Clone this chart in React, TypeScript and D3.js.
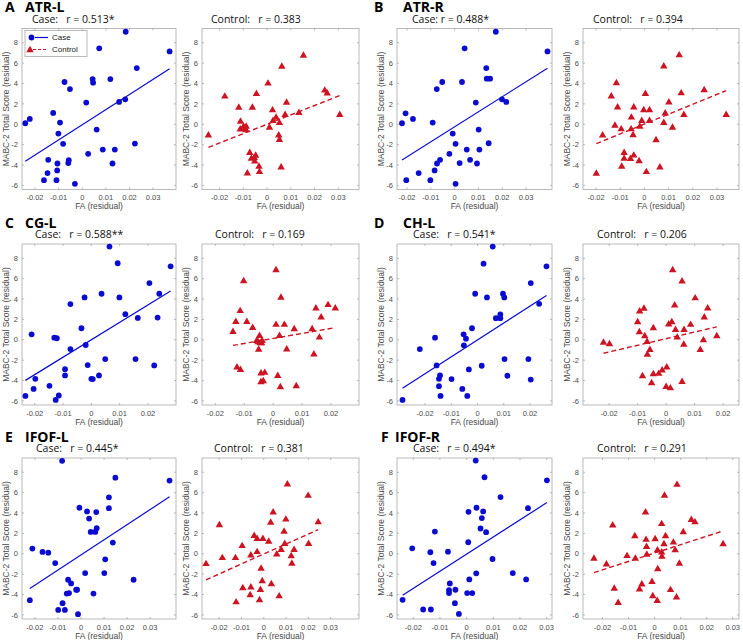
import React from "react";
import * as d3 from "d3";

type Pt = [number, number];

// panel headings and correlation labels
const letters = ["A", "B", "C", "D", "E", "F"];
const tracts = ["ATR-L", "ATR-R", "CG-L", "CH-L", "IFOF-L", "IFOF-R"];
const caseTitles = [
  "Case:   r = 0.513*",
  "Case: r = 0.488*",
  "Case:   r = 0.588**",
  "Case:   r = 0.541*",
  "Case:   r = 0.445*",
  "Case:   r = 0.494*",
];
const controlTitles = [
  "Control:   r = 0.383",
  "Control:   r = 0.394",
  "Control:   r = 0.169",
  "Control:   r = 0.206",
  "Control:   r = 0.381",
  "Control:   r = 0.291",
];

const xTicks = [-0.02, -0.01, 0, 0.01, 0.02, 0.03];
const yTicks = [-6, -4, -2, 0, 2, 4, 6, 8];

// [FA residual, MABC-2 residual]
const atrLCase: Pt[] = [
  [-0.0241, 0.1], [-0.0222, 0.53], [-0.0123, 1.11], [-0.0094, 0.17], [-0.0101, -0.91],
  [-0.0081, -1.92], [-0.0075, 4.15], [-0.0052, 3.46], [-0.0144, -3.49], [-0.0105, -3.85],
  [-0.0057, -3.52], [-0.0059, -3.81], [-0.0147, -4.79], [-0.0106, -4.53], [-0.0162, -5.48],
  [-0.0109, -5.48], [-0.0031, -5.84], [0.0017, 2.13], [0.0025, -2.9], [0.0044, 4.44],
  [0.0046, 4.08], [0.0072, 7.45], [0.0061, -0.52], [0.0087, -2.48], [0.0119, 4.44],
  [0.0138, -2.48], [0.0128, -3.85], [0.0156, 2.19], [0.0182, 2.45], [0.0184, 9.08],
  [0.0231, 5.52], [0.0223, -1.89], [0.037, 7.15],
];
const atrLControl: Pt[] = [
  [-0.0247, -1.09], [-0.0178, 2.73], [-0.0119, 1.64], [-0.0112, 0.26], [-0.0113, -0.5],
  [-0.0099, -0.23], [-0.0093, -0.43], [-0.0089, -0.56], [-0.0088, -0.23], [-0.0062, 1.64],
  [-0.0045, 2.99], [-0.0073, -2.8], [-0.0066, -3.36], [-0.0054, -3.3], [-0.0048, -3.07],
  [-0.0052, -3.63], [-0.0034, -4.15], [-0.0032, -4.68], [-0.0083, -4.81], [0.0004, 4.01],
  [0.001, -0.33], [0.0023, 1.38], [0.0025, 0.33], [0.0038, 0.65], [0.0049, -1.09],
  [0.0052, -1.52], [0.0052, 0.13], [0.0062, 5.66], [0.0059, -4.22], [0.0076, 0.92],
  [0.0082, 2.14], [0.0134, 1.12], [0.0153, 6.75], [0.0243, 3.32], [0.0253, 3.03],
  [0.0306, 0.92],
];
const atrRCase: Pt[] = [
  [-0.0221, 0.1], [-0.0206, 1.08], [-0.0175, 0.53], [-0.0203, -5.48], [-0.0151, -4.79],
  [-0.0092, 0.17], [-0.0075, 3.46], [-0.0052, 4.15], [-0.0084, -4.53], [-0.0074, -3.85],
  [-0.0061, -3.49], [-0.0102, -5.48], [-0.0022, -2.9], [-0.0008, -0.91], [0.0004, -1.92],
  [0.0004, -5.84], [0.0021, -3.81], [0.0031, 4.15], [0.0042, 7.45], [0.0051, -2.48],
  [0.0065, -3.49], [0.0089, 2.13], [0.0094, -3.85], [0.0101, -0.52], [0.0104, -2.48],
  [0.0133, 5.52], [0.0135, 4.48], [0.0149, 4.48], [0.0143, -1.86], [0.0173, 9.08],
  [0.0199, 2.45], [0.0217, 2.19], [0.039, 7.15],
];
const atrRControl: Pt[] = [
  [-0.0199, -4.84], [-0.0173, -1.08], [-0.0137, 2.75], [-0.0116, 4.04], [-0.0111, 1.66],
  [-0.0122, -0.12], [-0.0096, -0.48], [-0.0094, -4.15], [-0.0084, -2.8], [-0.0084, -3.36],
  [-0.0054, 0.67], [-0.0055, -0.48], [-0.0044, 1.66], [-0.0047, -1.05], [-0.0044, -3.06],
  [-0.0058, -3.39], [-0.0022, -3.62], [-0.0019, -0.22], [-0.0011, 0.34], [-0.0003, 1.4],
  [0.0004, 2.98], [0.0008, -4.68], [0.0021, 1.4], [0.0021, 0.34], [0.0048, -1.54],
  [0.0064, -4.22], [0.008, 5.69], [0.008, 0.14], [0.0086, 1.07], [0.0101, 2.16],
  [0.0116, -0.32], [0.0144, 6.78], [0.0152, 3.05], [0.0163, 0.93], [0.0247, 3.35],
  [0.0338, 0.93],
];
const cgLCase: Pt[] = [
  [-0.0233, -5.51], [-0.0211, 0.54], [-0.0204, -4.82], [-0.0198, -3.83], [-0.0148, -4.52],
  [-0.0131, 0.21], [-0.0122, 0.15], [-0.0126, -5.9], [-0.0115, -5.47], [-0.0093, -2.88],
  [-0.0093, -3.5], [-0.0074, -0.91], [-0.0074, 3.5], [-0.0035, 1.13], [-0.0024, 4.16],
  [-0.002, -0.51], [-0.0013, -2.48], [0.0, -3.83], [0.0005, -3.86], [0.0027, -3.5],
  [0.0036, 4.52], [0.0049, -1.89], [0.0064, 9.15], [0.0093, 7.51], [0.0099, 4.16],
  [0.012, 2.51], [0.0156, -1.89], [0.0164, 2.15], [0.0205, 5.57], [0.0222, -2.52],
  [0.0234, 2.18], [0.024, 4.52], [0.028, 7.21],
];
const cgLControl: Pt[] = [
  [-0.0139, 0.79], [-0.0129, 1.77], [-0.0125, -2.7], [-0.0114, 2.83], [-0.0113, -2.94],
  [-0.0102, 5.76], [-0.0091, 1.77], [-0.0071, 1.18], [-0.0057, -0.1], [-0.0052, -0.23],
  [-0.0047, 0.39], [-0.0045, -0.33], [-0.004, -0.33], [-0.0038, -0.1], [-0.005, -0.96],
  [-0.0042, -3.3], [-0.0029, -3.23], [-0.0042, -4.15], [-0.0034, -4.06], [0.001, 6.85],
  [0.001, 1.48], [0.0016, -3.53], [0.0022, 0.39], [0.0027, 4.15], [0.0025, -4.65],
  [0.0039, 1.48], [0.0047, -0.93], [0.0073, 1.05], [0.008, -4.55], [0.0135, 1.05],
  [0.0141, -1.42], [0.0148, 3.09], [0.016, 0.23], [0.0166, 2.2], [0.019, 3.42],
  [0.0215, 3.09],
];
const chLCase: Pt[] = [
  [-0.0286, -5.9], [-0.022, -0.91], [-0.0162, 0.21], [-0.0156, -2.52], [-0.0143, -3.5],
  [-0.0147, -3.83], [-0.0147, -4.55], [-0.0141, -5.51], [-0.0099, -3.86], [-0.0058, -4.82],
  [-0.0053, 0.54], [-0.0052, -0.54], [-0.0044, 0.11], [-0.0039, -5.51], [-0.0033, -2.91],
  [-0.0021, 1.13], [-0.0009, 4.52], [0.0016, -2.55], [0.0023, 7.47], [0.0036, 4.16],
  [0.0058, 9.15], [0.007, 2.12], [0.0087, 2.48], [0.0087, 2.12], [0.0097, 4.52],
  [0.0102, 4.16], [0.0103, -1.89], [0.0114, -3.53], [0.0194, -1.89], [0.0203, 5.57],
  [0.0203, -3.9], [0.0235, 3.53], [0.0263, 7.21],
];
const chLControl: Pt[] = [
  [-0.022, -0.27], [-0.0199, -0.43], [-0.01, 1.74], [-0.0093, 2.8], [-0.0094, 0.75],
  [-0.0078, 3.06], [-0.0075, 0.36], [-0.0067, -0.2], [-0.0057, -0.99], [-0.0066, -1.45],
  [-0.0045, 1.15], [-0.0083, -3.56], [-0.0051, -4.25], [-0.0045, -3.36], [-0.0026, -3.33],
  [-0.0014, -3.0], [0.0002, -2.7], [0.0, -4.62], [0.0015, -4.75], [0.0009, 1.51],
  [0.002, 1.74], [0.0023, 6.85], [0.003, 3.39], [0.0033, 0.98], [0.0039, 0.23],
  [0.0056, 5.73], [0.0056, -4.12], [0.0063, 0.98], [0.0062, -0.47], [0.0086, 1.48],
  [0.0102, 4.08], [0.012, -0.99], [0.0131, -0.04], [0.0134, 2.2], [0.0146, 3.09],
  [0.0178, 0.36],
];
const ifofLCase: Pt[] = [
  [-0.0222, -4.55], [-0.0211, 0.51], [-0.0167, 0.18], [-0.0142, 0.11], [-0.0112, -0.91],
  [-0.0099, -5.51], [-0.0082, 9.12], [-0.008, -4.85], [-0.007, -5.51], [-0.0062, -3.9],
  [-0.0056, -2.55], [-0.0052, -3.86], [-0.0043, -2.91], [-0.0021, -3.53], [-0.0017, -3.53],
  [-0.0013, -5.93], [-0.0007, 4.52], [0.0018, -1.89], [0.0026, 4.16], [0.0035, 3.46],
  [0.0042, 2.15], [0.0054, -3.9], [0.0062, 2.15], [0.0066, 4.09], [0.0068, 2.51],
  [0.0101, -1.89], [0.0105, -0.54], [0.0121, 5.54], [0.0121, 4.48], [0.0138, 1.1],
  [0.0149, 7.47], [0.0228, -2.55], [0.0384, 7.18],
];
const ifofLControl: Pt[] = [
  [-0.0259, -1.0], [-0.0199, 2.81], [-0.0186, -0.41], [-0.0127, -0.41], [-0.0124, -4.75],
  [-0.0097, 0.77], [-0.0094, -3.37], [-0.0058, -0.15], [-0.0061, -4.06], [-0.0058, -3.3],
  [-0.0043, 1.76], [-0.003, 1.46], [-0.003, 0.18], [-0.0019, -4.55], [-0.0015, -3.53],
  [-0.0012, -1.46], [-0.0007, -2.68], [-0.0004, 1.46], [0.0022, 1.2], [0.0031, 3.07],
  [0.0034, -2.98], [0.0042, 4.06], [0.0058, -0.05], [0.0069, -4.16], [0.0078, 0.38],
  [0.0091, 2.18], [0.0094, 0.97], [0.0099, 3.37], [0.0106, 6.82], [0.0123, -0.22],
  [0.0126, -0.97], [0.0136, 0.38], [0.0199, 5.7], [0.0201, 0.97], [0.0244, 3.1],
];
const ifofRCase: Pt[] = [
  [-0.024, -4.52], [-0.0204, 0.54], [-0.0163, -5.47], [-0.0136, 0.15], [-0.0134, -5.47],
  [-0.0124, -0.91], [-0.0119, 2.18], [-0.007, 0.21], [-0.0063, -2.91], [-0.0066, -3.57],
  [-0.0066, -3.86], [-0.0042, -3.53], [-0.0044, -4.85], [-0.0029, -5.9], [0.0002, -3.86],
  [0.0006, 1.13], [0.0007, 4.12], [0.001, -2.52], [0.0021, -3.86], [0.0034, 9.15],
  [0.0037, 4.52], [0.0036, -1.92], [0.0052, 2.48], [0.0057, 3.5], [0.0062, 4.16],
  [0.0067, 7.51], [0.0073, 2.12], [0.0097, -0.51], [0.0127, 5.57], [0.0173, -1.89],
  [0.0223, -2.52], [0.023, 4.48], [0.0301, 7.21],
];
const ifofRControl: Pt[] = [
  [-0.0233, -0.47], [-0.0185, -1.04], [-0.0161, 2.8], [-0.0155, -3.42], [-0.014, -4.81],
  [-0.0106, -0.21], [-0.0076, 1.74], [-0.0074, -0.47], [-0.0058, -3.49], [-0.0049, -2.99],
  [-0.0035, 4.06], [-0.0033, 1.38], [-0.0031, 0.68], [-0.003, -0.08], [-0.001, -2.76],
  [-0.0007, -4.15], [0.0002, 1.45], [0.001, -4.61], [0.0012, -1.5], [0.0011, 0.35],
  [0.0027, 2.93], [0.0027, 0.15], [0.0028, -0.28], [0.0036, 0.95], [0.0038, 5.72],
  [0.0042, 1.74], [0.0061, -3.55], [0.0072, 1.11], [0.0079, 0.35], [0.0086, 6.78],
  [0.0084, -4.28], [0.0095, -0.97], [0.011, 2.14], [0.0141, 3.33], [0.0155, 3.1],
  [0.0263, 0.95],
];

const caseData = [atrLCase, atrRCase, cgLCase, chLCase, ifofLCase, ifofRCase];
const controlData = [atrLControl, atrRControl, cgLControl, chLControl, ifofLControl, ifofRControl];

// x-axis limits of each subplot
const caseXDomains: Pt[] = [
  [-0.0255, 0.0397], [-0.0242, 0.0409], [-0.0245, 0.0299],
  [-0.0307, 0.0284], [-0.0256, 0.0412], [-0.0261, 0.032],
];
const controlXDomains: Pt[] = [
  [-0.0274, 0.0387], [-0.0254, 0.0391], [-0.0246, 0.0297],
  [-0.0292, 0.0256], [-0.0277, 0.0427], [-0.0275, 0.0324],
];
const yDomain: Pt = [-6.4, 9.4];

const BLUE = "#0c0cd0";
const RED = "#cc1422";
const AXIS = "#a8a8a8";
const TICKTXT = "#4a4a4a";
const SANS = "'Liberation Sans', Arial, sans-serif";
const HEAD = "'Open Sans', 'Noto Sans', sans-serif";

const fmtX = (t: number) => (t === 0 ? "0" : t.toFixed(2));

function fit(pts: Pt[]) {
  const mx = d3.mean(pts, (d) => d[0]) as number;
  const my = d3.mean(pts, (d) => d[1]) as number;
  const sxy = d3.sum(pts, (d) => (d[0] - mx) * (d[1] - my));
  const sxx = d3.sum(pts, (d) => (d[0] - mx) ** 2);
  const b = sxy / sxx;
  return { b, a: my - b * mx };
}

const tri = d3.symbol(d3.symbolTriangle, 24)() as string;

type PanelProps = {
  data: Pt[];
  isCase: boolean;
  xDomain: Pt;
  left: number;
  right: number;
  top: number;
  height: number;
  title: string;
  titleX: number;
  legend?: boolean;
};

const Panel = ({ data, isCase, xDomain, left, right, top, height, title, titleX, legend }: PanelProps) => {
  const bottom = top + height;
  const x = d3.scaleLinear().domain(xDomain).range([left, right]);
  const y = d3.scaleLinear().domain(yDomain).range([bottom, top]);
  const ticksX = xTicks.filter((t) => t >= xDomain[0] && t <= xDomain[1]);
  const { a, b } = fit(data);
  const [x0, x1] = d3.extent(data, (d) => d[0]) as [number, number];
  const line = d3.line<number>().x((v) => x(v)).y((v) => y(a + b * v));
  const color = isCase ? BLUE : RED;

  return (
    <g>
      <rect x={left} y={top} width={right - left} height={height} fill="white" stroke={AXIS} strokeWidth={0.8} />
      {ticksX.map((t) => (
        <g key={"x" + t}>
          <line x1={x(t)} x2={x(t)} y1={bottom} y2={bottom - 2} stroke={AXIS} strokeWidth={0.8} />
          <line x1={x(t)} x2={x(t)} y1={top} y2={top + 2} stroke={AXIS} strokeWidth={0.8} />
          <text x={x(t)} y={bottom + 10.5} textAnchor="middle" fontSize={7.5} fill={TICKTXT} fontFamily={SANS}>
            {fmtX(t)}
          </text>
        </g>
      ))}
      {yTicks.map((t) => (
        <g key={"y" + t}>
          <line x1={left} x2={left + 2} y1={y(t)} y2={y(t)} stroke={AXIS} strokeWidth={0.8} />
          <line x1={right} x2={right - 2} y1={y(t)} y2={y(t)} stroke={AXIS} strokeWidth={0.8} />
          <text x={left - 4} y={y(t)} dy="0.35em" textAnchor="end" fontSize={7.5} fill={TICKTXT} fontFamily={SANS}>
            {String(t)}
          </text>
        </g>
      ))}
      <text x={(left + right) / 2} y={bottom + 19.5} textAnchor="middle" fontSize={8.5} fill={TICKTXT} fontFamily={SANS}>
        FA (residual)
      </text>
      <text
        transform={`translate(${left - 13},${(top + bottom) / 2}) rotate(-90)`}
        textAnchor="middle"
        fontSize={8.5}
        fill={TICKTXT}
        fontFamily={SANS}
      >
        MABC-2 Total Score (residual)
      </text>
      <path
        d={line([x0, x1]) as string}
        fill="none"
        stroke={color}
        strokeWidth={isCase ? 1.2 : 1.4}
        strokeDasharray={isCase ? undefined : "5,3"}
      />
      {data.map((d, i) =>
        isCase ? (
          <circle key={i} cx={x(d[0])} cy={y(d[1])} r={2.9} fill={BLUE} />
        ) : (
          <path key={i} d={tri} transform={`translate(${x(d[0])},${y(d[1])})`} fill={RED} />
        )
      )}
      <text x={titleX} y={top - 6} fontSize={10.5} fill="#111" fontFamily={HEAD} style={{ whiteSpace: "pre" }}>
        {title}
      </text>
      {legend && (
        <g>
          <rect x={left + 3} y={top + 2} width={62} height={26} fill="white" stroke={AXIS} strokeWidth={0.8} />
          <circle cx={left + 9.5} cy={top + 9} r={2.9} fill={BLUE} />
          <line x1={left + 13} x2={left + 26} y1={top + 9} y2={top + 9} stroke={BLUE} strokeWidth={1.2} />
          <text x={left + 30} y={top + 9} dy="0.35em" fontSize={8} fill="#222" fontFamily={SANS}>
            Case
          </text>
          <path d={tri} transform={`translate(${left + 8},${top + 21.5})`} fill={RED} />
          <line x1={left + 11} x2={left + 26} y1={top + 21} y2={top + 21} stroke={RED} strokeWidth={1.2} strokeDasharray="3,2" />
          <text x={left + 30} y={top + 21} dy="0.35em" fontSize={8} fill="#222" fontFamily={SANS}>
            Control
          </text>
        </g>
      )}
    </g>
  );
};

export default function App() {
  const W = 743;
  const H = 640;
  const rowTops = [28.5, 244, 458];
  const boxH = 161;
  // case box [left,right], control box [left,right] for the two block columns
  const blocks = [
    { caseBox: [22, 176], ctrlBox: [202, 359] },
    { caseBox: [397, 552], ctrlBox: [583, 739] },
  ];
  const caseTitleX = [32, 412, 35, 413, 36, 413];
  const ctrlTitleX = [211, 593, 215, 597, 214, 597];
  const nameXs = [25, 403, 25, 403, 25, 395];
  const letterXs = [5, 374, 5, 374, 5, 381];

  return (
    <svg width={W} height={H} style={{ position: "absolute", left: 0, top: 0, background: "white" }}>
      <rect width={W} height={H} fill="white" />
      {tracts.map((name, i) => {
        const row = Math.floor(i / 2);
        const blk = blocks[i % 2];
        const top = rowTops[row];
        return (
          <g key={name}>
            <text x={letterXs[i]} y={top - 16.5} fontSize={14} fontWeight="bold" fill="#000" fontFamily={HEAD}>
              {letters[i]}
            </text>
            <text x={nameXs[i]} y={top - 16.5} fontSize={14} fontWeight="bold" fill="#000" fontFamily={HEAD}>
              {name}
            </text>
            <Panel
              data={caseData[i]}
              isCase
              xDomain={caseXDomains[i]}
              left={blk.caseBox[0]}
              right={blk.caseBox[1]}
              top={top}
              height={boxH}
              title={caseTitles[i]}
              titleX={caseTitleX[i]}
              legend={i === 0}
            />
            <Panel
              data={controlData[i]}
              isCase={false}
              xDomain={controlXDomains[i]}
              left={blk.ctrlBox[0]}
              right={blk.ctrlBox[1]}
              top={top}
              height={boxH}
              title={controlTitles[i]}
              titleX={ctrlTitleX[i]}
            />
          </g>
        );
      })}
    </svg>
  );
}
